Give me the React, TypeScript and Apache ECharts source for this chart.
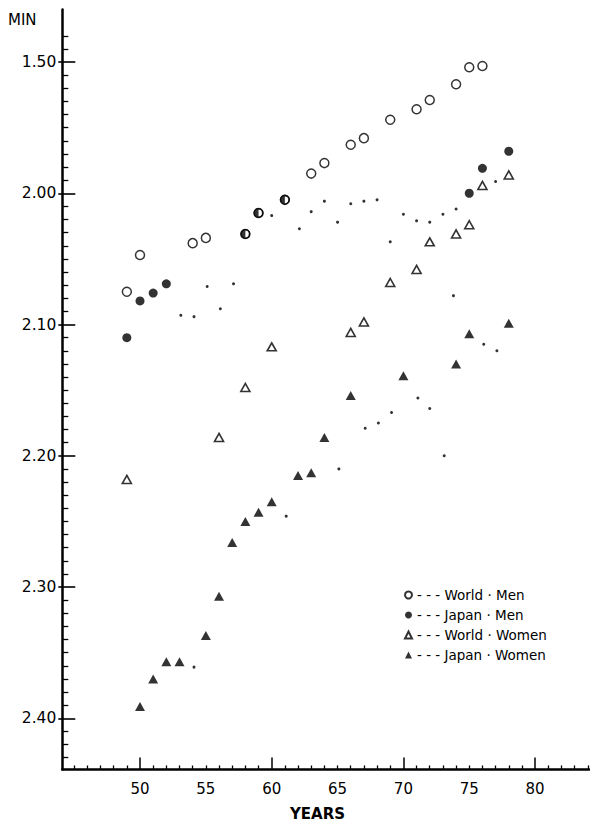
import React, { useEffect, useRef } from "react";
import * as echarts from "echarts";

// Times are in seconds (1.50 = 1 min 50 s = 110 s)
const worldMenYears = [49, 50, 54, 55, 58, 59, 61, 63, 64, 66, 67, 69, 71, 72, 74, 75, 76];
const worldMenSec = [127.5, 124.7, 123.8, 123.4, 123.1, 121.5, 120.5, 118.5, 117.7, 116.3, 115.8, 114.4, 113.6, 112.9, 111.7, 110.4, 110.3];

const japanMenYears = [49, 50, 51, 52, 58, 59, 61, 75, 76, 78];
const japanMenSec = [131.0, 128.2, 127.6, 126.9, 123.1, 121.5, 120.5, 120.0, 118.1, 116.8];

const worldWomenYears = [49, 56, 58, 60, 66, 67, 69, 71, 72, 74, 75, 76, 78];
const worldWomenSec = [141.8, 138.6, 134.8, 131.7, 130.6, 129.8, 126.8, 125.8, 123.7, 123.1, 122.4, 119.4, 118.6];

const japanWomenYears = [50, 51, 52, 53, 55, 56, 57, 58, 59, 60, 62, 63, 64, 66, 70, 74, 75, 78];
const japanWomenSec = [159.1, 157.0, 155.7, 155.7, 153.7, 150.7, 146.6, 145.0, 144.3, 143.5, 141.5, 141.3, 138.6, 135.4, 133.9, 133.0, 130.7, 129.9];

// years where the Japanese record equalled the world record (half-filled circle)
const sharedYears = [58, 59, 61];

// small residual dots of the dashed connecting lines
const dotYears = [53.1, 54.1, 55.1, 56.1, 57.1, 54.1, 60.0, 61.1, 62.1, 63.0, 64.0, 65.0, 65.1, 66.0, 67.0, 67.1, 68.0, 68.1, 69.0, 69.1, 70.0, 71.0, 71.1, 72.0, 72.0, 73.0, 73.1, 74.0, 73.8, 76.1, 77.0, 77.1];
const dotSec = [129.3, 129.4, 127.1, 128.8, 126.9, 156.1, 121.7, 144.6, 122.7, 121.4, 120.6, 122.2, 141.0, 120.8, 120.6, 137.9, 120.5, 137.5, 123.7, 136.7, 121.6, 122.1, 135.6, 122.2, 136.4, 121.6, 140.0, 121.2, 127.8, 131.5, 119.1, 132.0];

const yLabelSec = [110, 120, 130, 140, 150, 160];
const xLabelYears = [50, 55, 60, 65, 70, 75, 80];
const xMajorYears = [50, 60, 70, 80];

const FONT = "DejaVu Sans";
const INK = "#000";

const HALF = "path://M0,-5A5,5,0,1,1,0,5A5,5,0,1,1,0,-5ZM0,3.4A3.4,3.4,0,0,0,0,-3.4Z";

const toLabel = (v: number) => {
  const m = Math.floor(v / 60);
  const s = Math.round(v - m * 60);
  return `${m}.${String(s).padStart(2, "0")}`;
};

const pairs = (xs: number[], ys: number[]) => xs.map((x, i) => [x, ys[i]]);

export default function App() {
  const ref = useRef<HTMLDivElement>(null);
  useEffect(() => {
    if (!ref.current) return;
    const chart = echarts.init(ref.current, null, { renderer: "svg" });
    const yMinor: number[] = [];
    for (let s = 108; s <= 163; s++) if (s % 10 !== 0) yMinor.push(s);
    const xMinor: number[] = [];
    for (let y = 45; y <= 84; y++) if (!xMajorYears.includes(y)) xMinor.push(y);

    const xMin = 44.1;
    const xMax = 84.1;
    const yMin = 106;
    const yMax = 163.9;

    chart.setOption({
      animation: false,
      backgroundColor: "#fff",
      grid: { left: 62.3, top: 9.5, width: 526.8, height: 760 },
      legend: {
        data: ["World · Men", "Japan · Men", "World · Women", "Japan · Women"],
        orient: "vertical",
        left: 399,
        top: 583,
        itemWidth: 7,
        itemHeight: 7,
        itemGap: 6,
        selectedMode: false,
        formatter: (name: string) => "- - - " + name,
        textStyle: { fontFamily: FONT, fontSize: 13.5, color: INK, lineHeight: 14 },
      },
      xAxis: [
        {
          type: "value",
          min: xMin,
          max: xMax,
          position: "bottom",
          axisLine: { show: true, lineStyle: { color: INK, width: 2.5 } },
          axisTick: { show: true, inside: true, length: 12, customValues: xMajorYears, lineStyle: { color: INK, width: 1.5 } },
          axisLabel: { customValues: xLabelYears, margin: 12, fontFamily: FONT, fontSize: 15, color: INK },
          splitLine: { show: false },
        },
        {
          type: "value",
          min: xMin,
          max: xMax,
          position: "bottom",
          axisLine: { show: false },
          axisTick: { show: true, inside: true, length: 4, customValues: xMinor, lineStyle: { color: INK, width: 1.3 } },
          axisLabel: { show: false },
          splitLine: { show: false },
        },
      ],
      yAxis: [
        {
          type: "value",
          inverse: true,
          min: yMin,
          max: yMax,
          position: "left",
          axisLine: { show: true, lineStyle: { color: INK, width: 2.5 } },
          axisTick: { show: true, inside: true, length: 13, customValues: yLabelSec, lineStyle: { color: INK, width: 1.6 } },
          axisLabel: { customValues: yLabelSec, formatter: toLabel, margin: 6, fontFamily: FONT, fontSize: 15.5, color: INK },
          splitLine: { show: false },
        },
        {
          type: "value",
          inverse: true,
          min: yMin,
          max: yMax,
          position: "left",
          axisLine: { show: false },
          axisTick: { show: true, inside: true, length: 6, customValues: yMinor, lineStyle: { color: INK, width: 1.3 } },
          axisLabel: { show: false },
          splitLine: { show: false },
        },
        {
          type: "value",
          inverse: true,
          min: yMin,
          max: yMax,
          position: "left",
          axisLine: { show: false },
          axisTick: { show: true, inside: false, length: 4, customValues: yLabelSec, lineStyle: { color: INK, width: 1.6 } },
          axisLabel: { show: false },
          splitLine: { show: false },
        },
      ],
      graphic: [
        { type: "text", left: 8, top: 12, style: { text: "MIN", font: `15px "${FONT}"`, fill: INK } },
        { type: "text", left: 290, top: 806, style: { text: "YEARS", font: `bold 15px "${FONT}"`, fill: INK } },
      ],
      series: [
        {
          name: "dots",
          type: "scatter",
          silent: true,
          symbol: "circle",
          symbolSize: 3,
          itemStyle: { color: INK },
          data: pairs(dotYears, dotSec),
        },
        {
          name: "World · Men",
          type: "scatter",
          symbol: "circle",
          symbolSize: 9,
          itemStyle: { color: "#fff", borderColor: INK, borderWidth: 1.5 },
          data: pairs(worldMenYears, worldMenSec),
        },
        {
          name: "Japan · Men",
          type: "scatter",
          symbol: "circle",
          symbolSize: 9,
          itemStyle: { color: INK },
          data: japanMenYears.map((y, i) =>
            sharedYears.includes(y)
              ? { value: [y, japanMenSec[i]], symbol: HALF, symbolSize: 10 }
              : { value: [y, japanMenSec[i]] }
          ),
        },
        {
          name: "World · Women",
          type: "scatter",
          symbol: "triangle",
          symbolSize: [9, 8],
          itemStyle: { color: "#fff", borderColor: INK, borderWidth: 1.6 },
          data: pairs(worldWomenYears, worldWomenSec),
        },
        {
          name: "Japan · Women",
          type: "scatter",
          symbol: "triangle",
          symbolSize: [10, 9],
          itemStyle: { color: INK },
          data: pairs(japanWomenYears, japanWomenSec),
        },
      ],
    });
    return () => chart.dispose();
  }, []);
  return (
    <div
      ref={ref}
      style={{ position: "absolute", left: 0, top: 0, width: 590, height: 823, background: "#fff" }}
    />
  );
}
